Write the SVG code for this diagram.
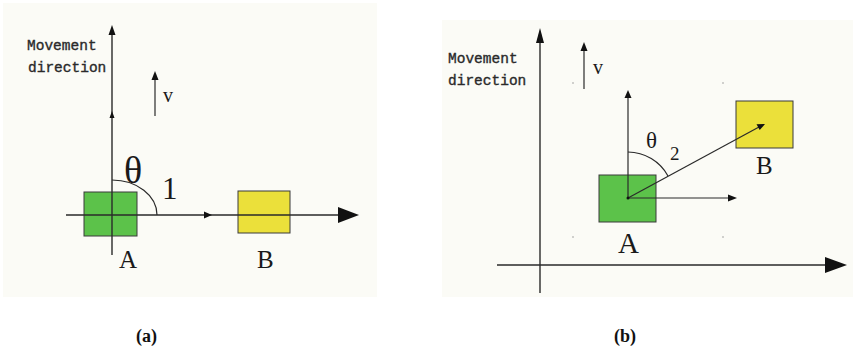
<svg xmlns="http://www.w3.org/2000/svg" width="853" height="352" viewBox="0 0 853 352">
<style>
.ax{stroke:#2a2a2a;stroke-width:1.4;fill:none}
.ln{stroke:#2a2a2a;stroke-width:1.2;fill:none}
.ah{fill:#111}
.mono{font-family:"Liberation Mono","DejaVu Sans Mono",monospace;font-size:14.5px;fill:#2a2a2a;stroke:#2a2a2a;stroke-width:0.35}
.ser{font-family:"Liberation Serif","DejaVu Serif",serif;fill:#1a1a1a}
.cap{font-family:"Liberation Serif","DejaVu Serif",serif;font-size:18px;font-weight:bold;fill:#111}
.grn{fill:#5cc24a;stroke:#3a3a3a;stroke-width:1}
.yel{fill:#ebe03a;stroke:#3a3a3a;stroke-width:1}
</style>
<rect width="853" height="352" fill="#ffffff"/>
<rect x="3" y="3" width="374" height="294" fill="#fbfbf6"/>
<rect x="442" y="20" width="411" height="277" fill="#fbfbf6"/>

<g id="panel-a">
  <g id="a-nodeA">
    <rect class="grn" x="84" y="192" width="53" height="44"/>
    <text class="ser" x="119" y="268" font-size="25">A</text>
  </g>
  <g id="a-nodeB">
    <rect class="yel" x="238" y="191" width="52" height="42"/>
    <text class="ser" x="257" y="268" font-size="25">B</text>
  </g>
  <g id="a-connectors">
    <line class="ax" x1="112" y1="30" x2="112" y2="255"/>
    <polygon class="ah" points="112,25 108.5,35 115.5,35"/>
    <polygon class="ah" points="112,111 109.5,118 114.5,118"/>
    <line class="ax" x1="66" y1="215" x2="342" y2="215"/>
    <polygon class="ah" points="359,215 338,207 338,223"/>
    <polygon class="ah" points="212,215 204,211.5 204,218.5"/>
    <line class="ln" x1="155" y1="76" x2="155" y2="116"/>
    <polygon class="ah" points="155,71 151.5,80 158.5,80"/>
    <path class="ln" d="M112,180 A45,35 0 0 1 157,215" stroke="#555"/>
  </g>
  <text class="mono" x="27" y="50">Movement</text>
  <text class="mono" x="28" y="72">direction</text>
  <text class="ser" x="163" y="102" font-size="20">v</text>
  <text class="ser" x="124" y="183" font-size="38">θ</text>
  <text class="ser" x="162" y="199" font-size="31">1</text>
  <text class="cap" x="136" y="342">(a)</text>
</g>

<g id="panel-b">
  <g id="b-nodeA">
    <rect class="grn" x="599" y="175" width="57" height="47"/>
    <text class="ser" x="618" y="253" font-size="29">A</text>
  </g>
  <g id="b-nodeB">
    <rect class="yel" x="736" y="101" width="57" height="47"/>
    <text class="ser" x="756" y="174" font-size="25">B</text>
  </g>
  <g id="b-connectors">
    <line class="ax" x1="540" y1="38" x2="540" y2="293"/>
    <polygon class="ah" points="540,28 536,43 544,43"/>
    <line class="ax" x1="497" y1="265" x2="830" y2="265"/>
    <polygon class="ah" points="847,265 825,257 825,273"/>
    <line class="ln" x1="584" y1="48" x2="584" y2="89"/>
    <polygon class="ah" points="584,42 580.5,51 587.5,51"/>
    <line class="ln" x1="628" y1="198" x2="628" y2="96"/>
    <polygon class="ah" points="628,90 624.5,98 631.5,98"/>
    <line class="ln" x1="628" y1="198" x2="729" y2="198"/>
    <polygon class="ah" points="737,198 728,194.5 728,201.5"/>
    <line class="ln" x1="628" y1="198" x2="759" y2="127"/>
    <polygon class="ah" points="765,124 756.5,124.2 759.7,130.1"/>
    <circle cx="628" cy="198" r="1.5" fill="#111"/>
    <path class="ln" d="M628,152 A46,46 0 0 1 668,176" stroke="#555"/>
  </g>
  <text class="mono" x="448" y="63">Movement</text>
  <text class="mono" x="448" y="85">direction</text>
  <text class="ser" x="593" y="74" font-size="20">v</text>
  <text class="ser" x="646" y="148" font-size="23">θ</text>
  <text class="ser" x="670" y="160" font-size="19">2</text>
  <g fill="#999">
    <circle cx="573" cy="83" r="0.8"/>
    <circle cx="723" cy="83" r="0.8"/>
    <circle cx="573" cy="237" r="0.8"/>
    <circle cx="723" cy="237" r="0.8"/>
  </g>
  <text class="cap" x="614" y="342">(b)</text>
</g>
</svg>
